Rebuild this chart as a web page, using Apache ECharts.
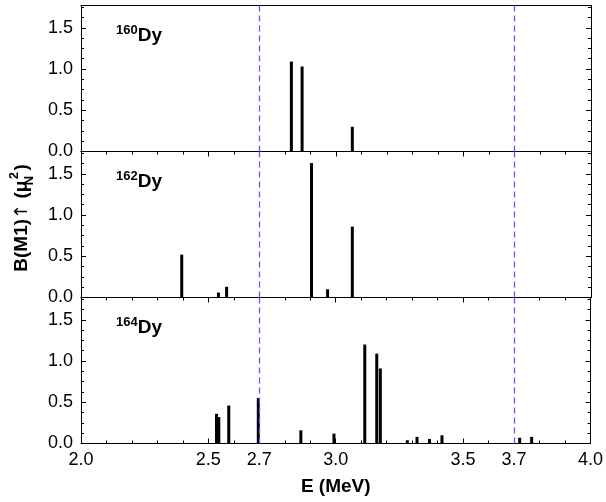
<!DOCTYPE html>
<html>
<head>
<meta charset="utf-8">
<script src="https://cdn.jsdelivr.net/npm/echarts@6/dist/echarts.min.js"></script>
<style>html,body{margin:0;padding:0;background:#fff}#c{width:606px;height:502px}</style>
</head>
<body>
<div id="c"></div>
<script>
// ---- data ----
const isotopes = ['160', '162', '164'];
const energy160 = [2.825, 2.867, 3.064];
const bm1_160 = [1.09, 1.03, 0.30];
const energy162 = [2.395, 2.539, 2.571, 2.904, 2.967, 3.064];
const bm1_162 = [0.52, 0.06, 0.13, 1.63, 0.10, 0.86];
const energy164 = [2.532, 2.541, 2.580, 2.696, 2.863, 2.993, 3.114, 3.161, 3.175, 3.281, 3.319, 3.368, 3.417, 3.722, 3.769];
const bm1_164 = [0.36, 0.32, 0.46, 0.55, 0.16, 0.12, 1.20, 1.09, 0.91, 0.04, 0.08, 0.055, 0.10, 0.07, 0.08];
const xTickLabels = [2.0, 2.5, 2.7, 3.0, 3.5, 3.7, 4.0];
const yTickLabels = [0.0, 0.5, 1.0, 1.5];
const dashedLines = [2.7, 3.7];
const xMin = 2.0, xMax = 4.0, yMin = 0, yMax = 1.77;

const FONT = '"Liberation Sans", Arial, Helvetica, sans-serif';
const energies = [energy160, energy162, energy164];
const values = [bm1_160, bm1_162, bm1_164];
const inList = (v, list) => list.some(t => Math.abs(t - v) < 1e-6);

const chart = echarts.init(document.getElementById('c'), null, {renderer: 'canvas'});

const gridTops = [5.5, 151.5, 297.5];
const gridH = 146;
const grids = gridTops.map(t => ({left: 81, width: 510, top: t, height: gridH, containLabel: false}));

const xAxes = [];
const yAxes = [];
const series = [];
const graphics = [];
const black = {color: '#000', width: 1};

function xAx(g, pos, interval, opts) {
  return Object.assign({
    type: 'value', gridIndex: g, position: pos, min: xMin, max: xMax, interval: interval,
    axisLine: {show: false, onZero: false, lineStyle: black},
    axisTick: {show: false},
    splitLine: {show: false}, axisLabel: {show: false}
  }, opts);
}
function yAx(g, pos, interval, opts) {
  return Object.assign({
    type: 'value', gridIndex: g, position: pos, min: yMin, max: yMax, interval: interval,
    axisLine: {show: false, onZero: false, lineStyle: black},
    axisTick: {show: false},
    splitLine: {show: false}, axisLabel: {show: false}
  }, opts);
}

for (let g = 0; g < 3; g++) {
  const isBottom = g === 2;
  const seriesX = xAxes.length;
  xAxes.push(xAx(g, 'bottom', 0.1, {
    axisLine: {show: true, onZero: false, lineStyle: black},
    axisTick: {show: isBottom, inside: true, length: 3, lineStyle: black},
    axisLabel: isBottom ? {
      show: true, hideOverlap: false,
      formatter: v => inList(v, xTickLabels) ? Number(v).toFixed(1) : '',
      fontSize: 18, color: '#000', fontFamily: FONT, margin: 8
    } : {show: false},
    name: isBottom ? 'E (MeV)' : '', nameLocation: 'middle', nameGap: 34,
    nameTextStyle: {fontSize: 19, fontWeight: 'bold', color: '#000', fontFamily: FONT}
  }));
  if (isBottom) {
    xAxes.push(xAx(g, 'bottom', 0.5, {axisTick: {show: true, inside: true, length: 5, lineStyle: black}}));
  }
  xAxes.push(xAx(g, 'top', 0.1, {
    axisLine: {show: true, onZero: false, lineStyle: black},
    axisTick: {show: g > 0, inside: true, length: 3, lineStyle: black}
  }));
  if (g > 0) {
    xAxes.push(xAx(g, 'top', 0.5, {axisTick: {show: true, inside: true, length: 5, lineStyle: black}}));
  }
  const seriesY = yAxes.length;
  yAxes.push(yAx(g, 'left', 0.5, {
    axisLine: {show: true, onZero: false, lineStyle: black},
    axisTick: {show: true, inside: true, length: 5, lineStyle: black},
    axisLabel: {show: true, hideOverlap: false,
      formatter: v => inList(v, yTickLabels) ? Number(v).toFixed(1) : '',
      fontSize: 18, color: '#000', fontFamily: FONT, margin: 8}
  }));
  yAxes.push(yAx(g, 'left', 0.125, {axisTick: {show: true, inside: true, length: 3, lineStyle: black}}));
  yAxes.push(yAx(g, 'right', 0.5, {
    axisLine: {show: true, onZero: false, lineStyle: black},
    axisTick: {show: true, inside: true, length: 5, lineStyle: black}
  }));
  yAxes.push(yAx(g, 'right', 0.125, {axisTick: {show: true, inside: true, length: 3, lineStyle: black}}));

  series.push({
    type: 'bar', name: isotopes[g] + 'Dy',
    xAxisIndex: seriesX, yAxisIndex: seriesY,
    data: energies[g].map((e, i) => [e, values[g][i]]),
    barWidth: 3,
    itemStyle: {color: '#000'},
    silent: true,
    markLine: {
      silent: true, symbol: ['none', 'none'], label: {show: false},
      lineStyle: {color: '#5a5aff', type: [6, 4], width: 1.3},
      data: dashedLines.map(v => ({xAxis: v}))
    }
  });

  graphics.push({
    type: 'text', left: 116, top: gridTops[g] + 18,
    style: {
      text: '{s|' + isotopes[g] + '}{d|Dy}',
      rich: {
        s: {fontSize: 13, fontWeight: 'bold', fontFamily: FONT, fill: '#000', verticalAlign: 'top', lineHeight: 22},
        d: {fontSize: 19, fontWeight: 'bold', fontFamily: FONT, fill: '#000', verticalAlign: 'bottom', lineHeight: 22}
      }
    }
  });
}

graphics.push({
  type: 'text', x: 22, y: 218, rotation: Math.PI / 2,
  style: {
    text: '{b|B(M1)}{a|↑}{b| (μ}{n|N}{p|2}{b|)}',
    align: 'center', verticalAlign: 'middle', textAlign: 'center', textVerticalAlign: 'middle',
    rich: {
      b: {fontSize: 19, fontWeight: 'bold', fontFamily: FONT, fill: '#000', lineHeight: 28, verticalAlign: 'middle'},
      a: {fontSize: 18, fontWeight: 'normal', fontFamily: '"DejaVu Sans", sans-serif', fill: '#000', lineHeight: 28, verticalAlign: 'middle'},
      n: {fontSize: 13, fontWeight: 'bold', fontFamily: FONT, fill: '#000', lineHeight: 28, verticalAlign: 'bottom', width: 0},
      p: {fontSize: 13, fontWeight: 'bold', fontFamily: FONT, fill: '#000', lineHeight: 28, verticalAlign: 'top', width: 10}
    }
  }
});

chart.setOption({
  animation: false,
  backgroundColor: '#fff',
  grid: grids,
  xAxis: xAxes,
  yAxis: yAxes,
  series: series,
  graphic: graphics
});
</script>
</body>
</html>
